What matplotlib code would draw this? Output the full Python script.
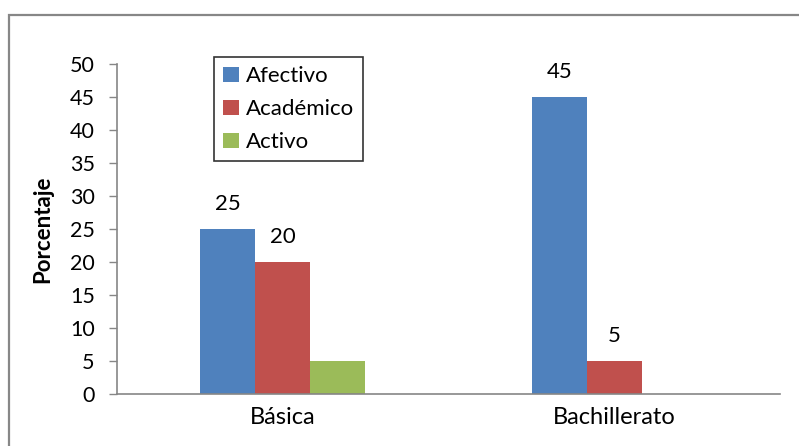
import matplotlib
matplotlib.use("Agg")
import matplotlib.pyplot as plt
from matplotlib.patches import Rectangle
import numpy as np

categories = ["Básica", "Bachillerato"]
series_names = ["Afectivo", "Académico", "Activo"]
afectivo = [25, 45]
academico = [20, 5]
activo = [5, 0]
# data labels shown in the original (Activo has none)
show_labels = [True, True, False]
colors = ["#4F81BD", "#C0504D", "#9BBB59"]
yticks = [0, 5, 10, 15, 20, 25, 30, 35, 40, 45, 50]

plt.rcParams['font.family'] = ['Lato', 'DejaVu Sans']

W, H = 799, 446
fig = plt.figure(figsize=(W / 100, H / 100), dpi=100)
fig.patch.set_facecolor("white")

# outer chart border (clipped on right and bottom like the reference)
fig.add_artist(Rectangle((9 / W, -0.1), 1.2, (H - 15) / H + 0.1, transform=fig.transFigure,
                         fill=False, edgecolor="#878787", linewidth=1.6))

ax = fig.add_axes([117 / W, (H - 394) / H, 663 / W, 330 / H])
x = np.arange(len(categories))
width = 0.166
all_vals = [afectivo, academico, activo]
for i, (name, vals, col) in enumerate(zip(series_names, all_vals, colors)):
    pos = x + (i - 1) * width
    bars = ax.bar(pos, vals, width, color=col, label=name, linewidth=0)
    if show_labels[i]:
        for b, v in zip(bars, vals):
            if v > 0:
                ax.annotate(str(v), (b.get_x() + b.get_width() / 2, v),
                            xytext=(0, 11), textcoords="offset points",
                            ha="center", va="bottom", fontsize=16, color="black")

ax.set_xlim(-0.5, 1.5)
ax.set_ylim(0, 50)
ax.set_yticks(yticks)
ax.set_yticklabels([str(t) for t in yticks], fontsize=15.5)
ax.set_xticks(x)
ax.set_xticklabels(categories, fontsize=17)
ax.tick_params(axis="x", length=0, pad=9)
ax.tick_params(axis="y", length=6, width=1, color="#868686", pad=10)
for s in ["top", "right"]:
    ax.spines[s].set_visible(False)
for s in ["left", "bottom"]:
    ax.spines[s].set_color("#868686")
    ax.spines[s].set_linewidth(1.2)
ax.set_ylabel("Porcentaje", fontsize=16, fontweight="bold", labelpad=12)

leg = ax.legend(loc="upper left", bbox_to_anchor=((214 - 117) / 663, (394 - 57) / 330),
                frameon=True, fancybox=False, edgecolor="black", fontsize=16,
                handlelength=0.7, handleheight=0.7, handletextpad=0.3,
                labelspacing=0.58, borderpad=0.42, borderaxespad=0)
leg.get_frame().set_linewidth(1.2)

fig.savefig("out.png", dpi=100)
